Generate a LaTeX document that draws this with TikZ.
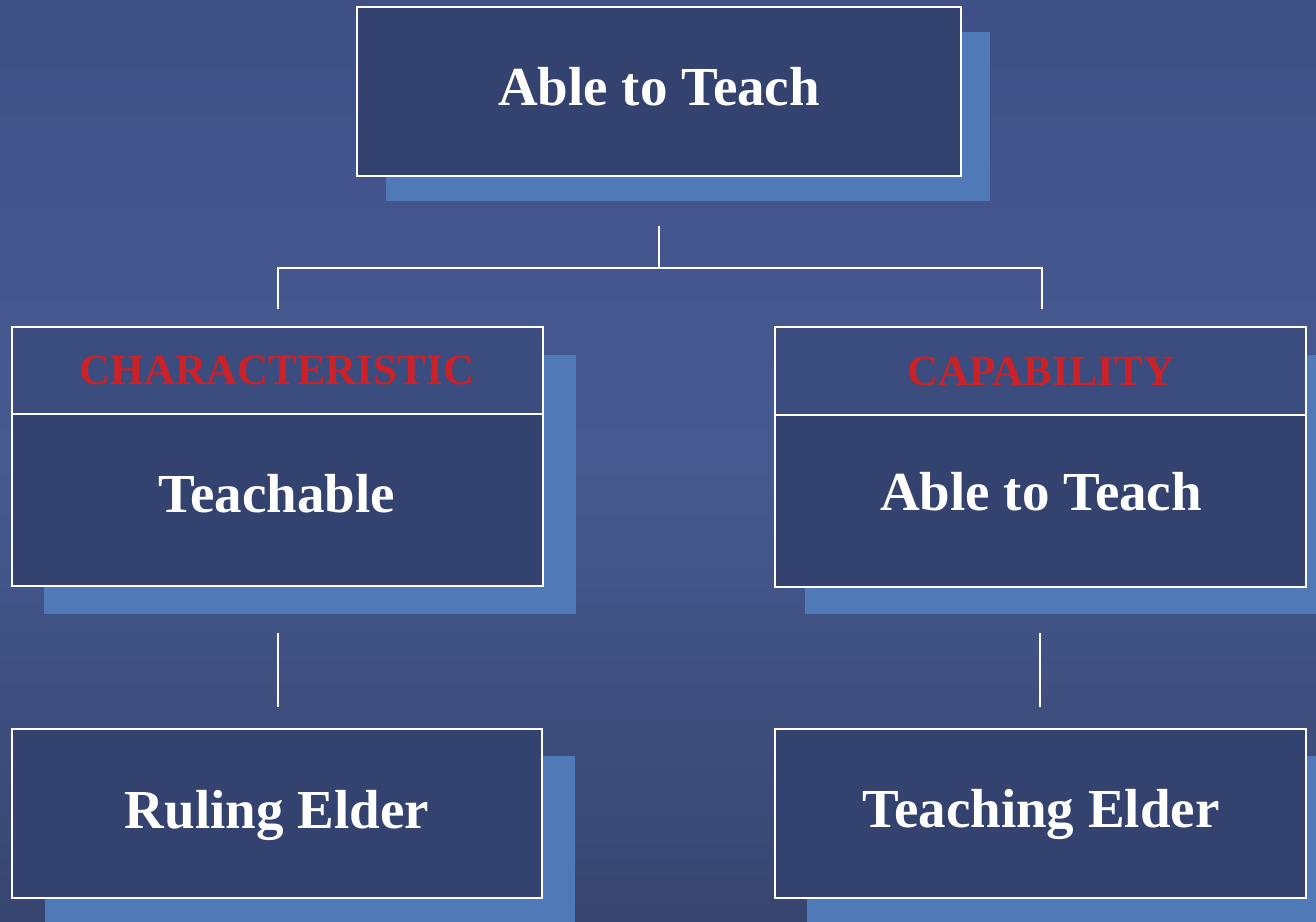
\documentclass[tikz,border=0pt]{standalone}
\usepackage{fontspec}
\setmainfont{Liberation Serif}
\definecolor{bgtop}{HTML}{3F5087}
\definecolor{bgmid}{HTML}{465A91}
\definecolor{bgbot}{HTML}{37456F}
\definecolor{boxfill}{HTML}{34426F}
\definecolor{headfill}{HTML}{3B4D7E}
\definecolor{shadowc}{HTML}{4F79B7}
\definecolor{redc}{HTML}{CC2127}
\begin{document}
\begin{tikzpicture}[x=1pt,y=-1pt,
  shadowbox/.style={fill=shadowc,draw=none},
  mainbox/.style={draw=white,line width=2pt,fill=boxfill},
  cellbox/.style={draw=white,line width=1.2pt},
  bigtext/.style={text=white,font=\fontsize{55}{60}\selectfont\bfseries,anchor=base,inner sep=0pt},
  redtext/.style={text=redc,font=\fontsize{43}{48}\selectfont\bfseries,anchor=base,inner sep=0pt},
  link/.style={draw=white,line width=2pt}]
\useasboundingbox (0,0) rectangle (1316,921);
\clip (0,0) rectangle (1316,921);
% background
\shade[top color=bgtop,bottom color=bgmid] (0,0) rectangle (1316,460);
\shade[top color=bgmid,bottom color=bgbot] (0,460) rectangle (1316,921);
% shadows
\fill[shadowbox] (386,32) rectangle (990,201);
\fill[shadowbox] (44,355) rectangle (576,614);
\fill[shadowbox] (805,355) rectangle (1340,614);
\fill[shadowbox] (45,756) rectangle (575,930);
\fill[shadowbox] (807,756) rectangle (1340,930);
% boxes
\path[mainbox] (357,7) rectangle (961,176);
\node[inner sep=0pt] (top) at (659,91.5) {};
\path[cellbox,fill=headfill] (12,327) rectangle (543,414);
\path[cellbox,fill=boxfill] (12,414) rectangle (543,586);
\path[cellbox,fill=headfill] (775,327) rectangle (1306,415);
\path[cellbox,fill=boxfill] (775,415) rectangle (1306,587);
\path[mainbox] (12,729) rectangle (542,898);
\path[mainbox] (775,729) rectangle (1306,898);
% texts
\node[bigtext] (toptext) at (659,105) {Able to Teach};
\node[redtext] (charhead) at (277,384) {CHARACTERISTIC};
\node[redtext] (caphead) at (1041,385) {CAPABILITY};
\node[bigtext] (teachable) at (277,512) {Teachable};
\node[bigtext] (ableright) at (1041,510) {Able to Teach};
\node[bigtext] (ruling) at (277,828) {Ruling Elder};
\node[bigtext] (teaching) at (1041,827) {Teaching Elder};
% connector coordinates
\coordinate (c0) at (659,226);
\coordinate (c1) at (659,268);
\coordinate (cl) at (278,268);
\coordinate (cr) at (1042,268);
\coordinate (cld) at (278,309);
\coordinate (crd) at (1042,309);
\coordinate (ll0) at (278,633);
\coordinate (ll1) at (278,707);
\coordinate (rl0) at (1040,633);
\coordinate (rl1) at (1040,707);
\draw[link] (c0) -- (c1);
\draw[link] (cld) -- (cl) -- (cr) -- (crd);
\draw[link] (ll0) -- (ll1);
\draw[link] (rl0) -- (rl1);
\end{tikzpicture}
\end{document}
